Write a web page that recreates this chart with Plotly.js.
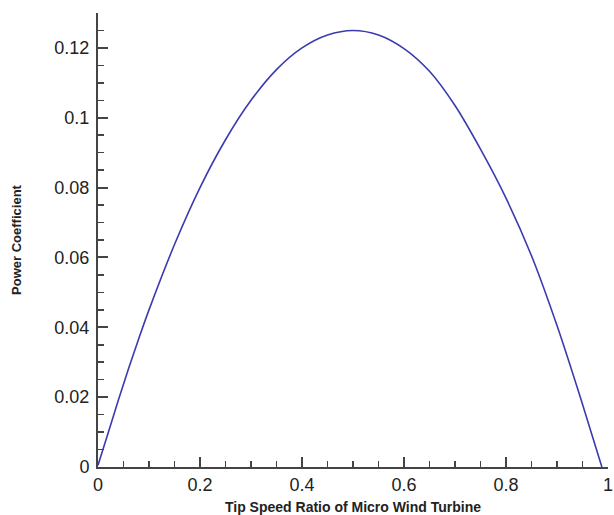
<!DOCTYPE html>
<html>
<head>
<meta charset="utf-8">
<script src="https://cdn.plot.ly/plotly-3.0.1.min.js"></script>
<style>html,body{margin:0;padding:0;background:#fff;}#chart{width:614px;height:515px;}</style>
</head>
<body>
<div id="chart"></div>
<script>
const tipSpeedRatio = [0, 0.02, 0.04, 0.06, 0.08, 0.10, 0.15, 0.20, 0.25, 0.30, 0.35, 0.40, 0.45, 0.50, 0.55, 0.60, 0.65, 0.70, 0.75, 0.80, 0.85, 0.90, 0.95, 0.988];
const powerCoefficient = [0.0005, 0.0098, 0.0192, 0.0282, 0.0368, 0.0450, 0.0637, 0.0800, 0.0937, 0.1050, 0.1138, 0.1200, 0.1237, 0.1250, 0.1237, 0.1198, 0.1133, 0.1035, 0.0910, 0.0770, 0.0605, 0.0405, 0.0180, 0];
const xTitle = "Tip Speed Ratio of Micro Wind Turbine";
const yTitle = "Power Coefficient";

const trace = {
  x: tipSpeedRatio,
  y: powerCoefficient,
  type: 'scatter',
  mode: 'lines',
  line: {color: '#3b3bb0', width: 1.6, shape: 'spline', smoothing: 0.8},
  hoverinfo: 'skip'
};

const axisFont = {family: 'Liberation Sans, Arial, sans-serif', size: 18, color: '#222'};
const layout = {
  width: 614, height: 515,
  margin: {l: 98, r: 6, t: 13, b: 48},
  paper_bgcolor: '#fff', plot_bgcolor: '#fff',
  showlegend: false,
  xaxis: {
    range: [0, 1], dtick: 0.2, tick0: 0,
    showgrid: false, zeroline: false,
    showline: true, linecolor: '#444', linewidth: 2,
    ticks: 'inside', ticklen: 10, tickwidth: 2, tickcolor: '#444',
    minor: {dtick: 0.05, ticks: 'inside', ticklen: 6, tickwidth: 1.5, tickcolor: '#444', showgrid: false},
    tickfont: axisFont,
    ticklabeloverflow: 'allow',
    title: {text: '<b>' + xTitle + '</b>', font: {family: 'Liberation Sans, Arial, sans-serif', size: 14, color: '#222'}, standoff: 12},
    automargin: false
  },
  yaxis: {
    range: [0, 0.13], dtick: 0.02, tick0: 0,
    showgrid: false, zeroline: false,
    showline: true, linecolor: '#444', linewidth: 2,
    ticks: 'inside', ticklen: 10, tickwidth: 2, tickcolor: '#444',
    minor: {dtick: 0.005, ticks: 'inside', ticklen: 6, tickwidth: 1.5, tickcolor: '#444', showgrid: false},
    tickfont: axisFont,
    ticklabelstandoff: 3,
    title: {text: '<b>' + yTitle + '</b>', font: {family: 'Liberation Sans, Arial, sans-serif', size: 13, color: '#222'}, standoff: 30},
    automargin: false
  }
};

Plotly.newPlot('chart', [trace], layout, {displayModeBar: false, staticPlot: true});
</script>
</body>
</html>
